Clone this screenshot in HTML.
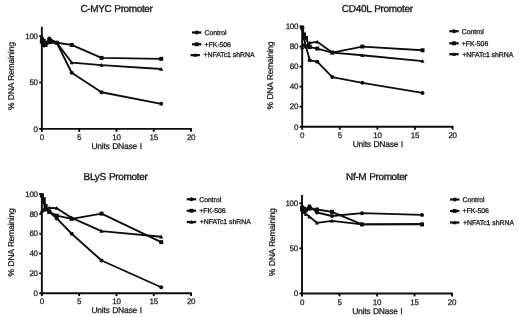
<!DOCTYPE html>
<html lang="en"><head><meta charset="utf-8"><title>DNase I sensitivity</title>
<style>
html,body{margin:0;padding:0;background:#fff;}
body{width:520px;height:317px;overflow:hidden;}
svg{display:block;font-family:"Liberation Sans",Arial,sans-serif;fill:#0d0d0d;}
text{fill:#1a1a1a;stroke:#1a1a1a;stroke-width:0.25px;text-rendering:geometricPrecision;}
.title{font-size:10px;stroke-width:0.35px;letter-spacing:-0.3px;word-spacing:0.6px;}
.tick{font-size:8px;letter-spacing:-0.3px;}
.lab{font-size:8.5px;letter-spacing:-0.24px;word-spacing:0.5px;}
.leg{font-size:6.9px;stroke-width:0.3px;letter-spacing:-0.03px;}
.ax{fill:none;stroke:#0d0d0d;stroke-width:1.9;}
.ln{fill:none;stroke:#0d0d0d;stroke-width:1.85;stroke-linejoin:round;}
.lg{fill:none;stroke:#0d0d0d;stroke-width:2.2;}
#all{filter:blur(0.35px);}
</style></head><body>
<svg width="520" height="317" viewBox="0 0 520 317">
<rect width="520" height="317" fill="#fff"/>
<g id="all">
<g><text class="title" style="letter-spacing:-0.38px" x="80.5" y="12.1">C-MYC Promoter</text>
<path class="ax" d="M41.85 26.7 V128.9 H191.90"/>
<path class="ax" d="M39.25 128.90 H41.85"/>
<text class="tick" x="37.75" y="131.60" text-anchor="end">0</text>
<path class="ax" d="M39.25 82.50 H41.85"/>
<text class="tick" x="37.75" y="85.20" text-anchor="end">50</text>
<path class="ax" d="M39.25 36.10 H41.85"/>
<text class="tick" x="37.75" y="38.80" text-anchor="end">100</text>
<path class="ax" d="M41.85 128.9 V131.8"/>
<text class="tick" x="41.85" y="139.9" text-anchor="middle">0</text>
<path class="ax" d="M79.15 128.9 V131.8"/>
<text class="tick" x="79.15" y="139.9" text-anchor="middle">5</text>
<path class="ax" d="M116.45 128.9 V131.8"/>
<text class="tick" x="116.45" y="139.9" text-anchor="middle">10</text>
<path class="ax" d="M153.75 128.9 V131.8"/>
<text class="tick" x="153.75" y="139.9" text-anchor="middle">15</text>
<path class="ax" d="M191.05 128.9 V131.8"/>
<text class="tick" x="191.05" y="139.9" text-anchor="middle">20</text>
<text class="lab" x="116.6" y="148.70000000000002" text-anchor="middle">Units DNase I</text>
<text class="lab" transform="translate(13.6 76.2) rotate(-90)" text-anchor="middle">% DNA Remaining</text>
<path class="ln" d="M41.85 38.88 L43.72 45.38 L45.58 43.52 L49.31 38.61 L56.77 42.78 L71.69 72.76 L101.53 92.24 L161.21 103.84"/>
<circle cx="41.85" cy="38.88" r="2.0"/>
<circle cx="43.72" cy="45.38" r="2.0"/>
<circle cx="45.58" cy="43.52" r="2.0"/>
<circle cx="49.31" cy="38.61" r="2.0"/>
<circle cx="56.77" cy="42.78" r="2.0"/>
<circle cx="71.69" cy="72.76" r="2.0"/>
<circle cx="101.53" cy="92.24" r="2.0"/>
<circle cx="161.21" cy="103.84" r="2.0"/>
<path class="ln" d="M41.85 41.67 L43.72 40.74 L45.58 44.45 L49.31 40.74 L56.77 42.78 L71.69 44.92 L101.53 57.91 L161.21 58.84"/>
<rect x="39.85" y="39.67" width="4.0" height="4.0"/>
<rect x="41.72" y="38.74" width="4.0" height="4.0"/>
<rect x="43.58" y="42.45" width="4.0" height="4.0"/>
<rect x="47.31" y="38.74" width="4.0" height="4.0"/>
<rect x="54.77" y="40.78" width="4.0" height="4.0"/>
<rect x="69.69" y="42.92" width="4.0" height="4.0"/>
<rect x="99.53" y="55.91" width="4.0" height="4.0"/>
<rect x="159.21" y="56.84" width="4.0" height="4.0"/>
<path class="ln" d="M41.85 36.56 L43.72 41.67 L45.58 45.38 L49.31 42.60 L56.77 42.78 L71.69 62.55 L101.53 65.15 L161.21 69.04"/>
<polygon points="41.85,34.46 43.95,38.24 39.75,38.24"/>
<polygon points="43.72,39.57 45.82,43.35 41.62,43.35"/>
<polygon points="45.58,43.28 47.68,47.06 43.48,47.06"/>
<polygon points="49.31,40.50 51.41,44.28 47.21,44.28"/>
<polygon points="56.77,40.68 58.87,44.46 54.67,44.46"/>
<polygon points="71.69,60.45 73.79,64.23 69.59,64.23"/>
<polygon points="101.53,63.05 103.63,66.83 99.43,66.83"/>
<polygon points="161.21,66.94 163.31,70.72 159.11,70.72"/>
<path class="lg" d="M192.0 32.5 H201.4"/>
<circle cx="196.70" cy="32.50" r="1.95"/>
<text class="leg" x="204.5" y="34.85">Control</text>
<path class="lg" d="M192.0 44.3 H201.4"/>
<rect x="194.75" y="42.35" width="3.9" height="3.9"/>
<text class="leg" x="204.5" y="46.65">+FK-506</text>
<path class="lg" d="M190.5 55.1 H199.9"/>
<polygon points="195.20,53.05 197.25,56.74 193.15,56.74"/>
<text class="leg" x="203.5" y="57.45">+NFATc1 shRNA</text></g>
<g><text class="title" style="letter-spacing:-0.3px" x="341.8" y="12.0">CD40L Promoter</text>
<path class="ax" d="M302.2 26.3 V126.8 H453.45"/>
<path class="ax" d="M299.59999999999997 126.80 H302.2"/>
<text class="tick" x="298.09999999999997" y="129.50" text-anchor="end">0</text>
<path class="ax" d="M299.59999999999997 106.74 H302.2"/>
<text class="tick" x="298.09999999999997" y="109.44" text-anchor="end">20</text>
<path class="ax" d="M299.59999999999997 86.68 H302.2"/>
<text class="tick" x="298.09999999999997" y="89.38" text-anchor="end">40</text>
<path class="ax" d="M299.59999999999997 66.62 H302.2"/>
<text class="tick" x="298.09999999999997" y="69.32" text-anchor="end">60</text>
<path class="ax" d="M299.59999999999997 46.56 H302.2"/>
<text class="tick" x="298.09999999999997" y="49.26" text-anchor="end">80</text>
<path class="ax" d="M299.59999999999997 26.50 H302.2"/>
<text class="tick" x="298.09999999999997" y="29.20" text-anchor="end">100</text>
<path class="ax" d="M302.20 126.8 V129.7"/>
<text class="tick" x="302.20" y="137.8" text-anchor="middle">0</text>
<path class="ax" d="M339.80 126.8 V129.7"/>
<text class="tick" x="339.80" y="137.8" text-anchor="middle">5</text>
<path class="ax" d="M377.40 126.8 V129.7"/>
<text class="tick" x="377.40" y="137.8" text-anchor="middle">10</text>
<path class="ax" d="M415.00 126.8 V129.7"/>
<text class="tick" x="415.00" y="137.8" text-anchor="middle">15</text>
<path class="ax" d="M452.60 126.8 V129.7"/>
<text class="tick" x="452.60" y="137.8" text-anchor="middle">20</text>
<text class="lab" x="377.8" y="146.6" text-anchor="middle">Units DNase I</text>
<text class="lab" transform="translate(273.4 75.6) rotate(-90)" text-anchor="middle">% DNA Remaining</text>
<path class="ln" d="M302.20 28.51 L304.08 38.54 L305.96 46.56 L309.72 60.30 L317.24 61.71 L332.28 77.05 L362.36 82.87 L422.52 92.90"/>
<circle cx="302.20" cy="28.51" r="2.0"/>
<circle cx="304.08" cy="38.54" r="2.0"/>
<circle cx="305.96" cy="46.56" r="2.0"/>
<circle cx="309.72" cy="60.30" r="2.0"/>
<circle cx="317.24" cy="61.71" r="2.0"/>
<circle cx="332.28" cy="77.05" r="2.0"/>
<circle cx="362.36" cy="82.87" r="2.0"/>
<circle cx="422.52" cy="92.90" r="2.0"/>
<path class="ln" d="M302.20 27.50 L304.08 34.52 L305.96 38.03 L309.72 47.06 L317.24 48.57 L332.28 52.58 L362.36 46.56 L422.52 50.27"/>
<rect x="300.20" y="25.50" width="4.0" height="4.0"/>
<rect x="302.08" y="32.52" width="4.0" height="4.0"/>
<rect x="303.96" y="36.03" width="4.0" height="4.0"/>
<rect x="307.72" y="45.06" width="4.0" height="4.0"/>
<rect x="315.24" y="46.57" width="4.0" height="4.0"/>
<rect x="330.28" y="50.58" width="4.0" height="4.0"/>
<rect x="360.36" y="44.56" width="4.0" height="4.0"/>
<rect x="420.52" y="48.27" width="4.0" height="4.0"/>
<path class="ln" d="M302.20 47.56 L304.08 44.55 L305.96 46.56 L309.72 42.85 L317.24 41.85 L332.28 52.58 L362.36 55.29 L422.52 61.10"/>
<polygon points="302.20,45.46 304.30,49.24 300.10,49.24"/>
<polygon points="304.08,42.45 306.18,46.23 301.98,46.23"/>
<polygon points="305.96,44.46 308.06,48.24 303.86,48.24"/>
<polygon points="309.72,40.75 311.82,44.53 307.62,44.53"/>
<polygon points="317.24,39.75 319.34,43.53 315.14,43.53"/>
<polygon points="332.28,50.48 334.38,54.26 330.18,54.26"/>
<polygon points="362.36,53.19 364.46,56.97 360.26,56.97"/>
<polygon points="422.52,59.00 424.62,62.78 420.42,62.78"/>
<path class="lg" d="M449.3 31.2 H458.7"/>
<circle cx="454.00" cy="31.20" r="1.95"/>
<text class="leg" x="461.8" y="33.55">Control</text>
<path class="lg" d="M449.3 43.3 H458.7"/>
<rect x="452.05" y="41.35" width="3.9" height="3.9"/>
<text class="leg" x="461.8" y="45.65">+FK-506</text>
<path class="lg" d="M449.3 54.2 H458.7"/>
<polygon points="454.00,52.15 456.05,55.84 451.95,55.84"/>
<text class="leg" x="462.3" y="56.550000000000004">+NFATc1 shRNA</text></g>
<g><text class="title" style="letter-spacing:-0.32px" x="83.6" y="179.7">BLyS Promoter</text>
<path class="ax" d="M41.85 193.9 V293.2 H191.90"/>
<path class="ax" d="M39.25 293.20 H41.85"/>
<text class="tick" x="37.75" y="295.90" text-anchor="end">0</text>
<path class="ax" d="M39.25 273.38 H41.85"/>
<text class="tick" x="37.75" y="276.08" text-anchor="end">20</text>
<path class="ax" d="M39.25 253.56 H41.85"/>
<text class="tick" x="37.75" y="256.26" text-anchor="end">40</text>
<path class="ax" d="M39.25 233.74 H41.85"/>
<text class="tick" x="37.75" y="236.44" text-anchor="end">60</text>
<path class="ax" d="M39.25 213.92 H41.85"/>
<text class="tick" x="37.75" y="216.62" text-anchor="end">80</text>
<path class="ax" d="M39.25 194.10 H41.85"/>
<text class="tick" x="37.75" y="196.80" text-anchor="end">100</text>
<path class="ax" d="M41.85 293.2 V296.09999999999997"/>
<text class="tick" x="41.85" y="304.2" text-anchor="middle">0</text>
<path class="ax" d="M79.15 293.2 V296.09999999999997"/>
<text class="tick" x="79.15" y="304.2" text-anchor="middle">5</text>
<path class="ax" d="M116.45 293.2 V296.09999999999997"/>
<text class="tick" x="116.45" y="304.2" text-anchor="middle">10</text>
<path class="ax" d="M153.75 293.2 V296.09999999999997"/>
<text class="tick" x="153.75" y="304.2" text-anchor="middle">15</text>
<path class="ax" d="M191.05 293.2 V296.09999999999997"/>
<text class="tick" x="191.05" y="304.2" text-anchor="middle">20</text>
<text class="lab" x="116.6" y="313.0" text-anchor="middle">Units DNase I</text>
<text class="lab" transform="translate(13.8 242.5) rotate(-90)" text-anchor="middle">% DNA Remaining</text>
<path class="ln" d="M41.85 196.08 L43.72 202.03 L45.58 208.96 L49.31 211.94 L56.77 218.38 L71.69 233.74 L101.53 260.50 L161.21 287.25"/>
<circle cx="41.85" cy="196.08" r="2.0"/>
<circle cx="43.72" cy="202.03" r="2.0"/>
<circle cx="45.58" cy="208.96" r="2.0"/>
<circle cx="49.31" cy="211.94" r="2.0"/>
<circle cx="56.77" cy="218.38" r="2.0"/>
<circle cx="71.69" cy="233.74" r="2.0"/>
<circle cx="101.53" cy="260.50" r="2.0"/>
<circle cx="161.21" cy="287.25" r="2.0"/>
<path class="ln" d="M41.85 195.09 L43.72 199.06 L45.58 205.99 L49.31 211.94 L56.77 215.70 L71.69 218.88 L101.53 213.62 L161.21 242.16"/>
<rect x="39.85" y="193.09" width="4.0" height="4.0"/>
<rect x="41.72" y="197.06" width="4.0" height="4.0"/>
<rect x="43.58" y="203.99" width="4.0" height="4.0"/>
<rect x="47.31" y="209.94" width="4.0" height="4.0"/>
<rect x="54.77" y="213.70" width="4.0" height="4.0"/>
<rect x="69.69" y="216.88" width="4.0" height="4.0"/>
<rect x="99.53" y="211.62" width="4.0" height="4.0"/>
<rect x="159.21" y="240.16" width="4.0" height="4.0"/>
<path class="ln" d="M41.85 210.95 L43.72 209.96 L45.58 209.46 L49.31 207.97 L56.77 208.17 L71.69 217.88 L101.53 231.06 L161.21 236.71"/>
<polygon points="41.85,208.85 43.95,212.63 39.75,212.63"/>
<polygon points="43.72,207.86 45.82,211.64 41.62,211.64"/>
<polygon points="45.58,207.36 47.68,211.14 43.48,211.14"/>
<polygon points="49.31,205.87 51.41,209.65 47.21,209.65"/>
<polygon points="56.77,206.07 58.87,209.85 54.67,209.85"/>
<polygon points="71.69,215.78 73.79,219.56 69.59,219.56"/>
<polygon points="101.53,228.96 103.63,232.74 99.43,232.74"/>
<polygon points="161.21,234.61 163.31,238.39 159.11,238.39"/>
<path class="lg" d="M186.75 199.25 H196.15"/>
<circle cx="191.45" cy="199.25" r="1.95"/>
<text class="leg" x="199.25" y="201.6">Control</text>
<path class="lg" d="M186.75 210.75 H196.15"/>
<rect x="189.50" y="208.80" width="3.9" height="3.9"/>
<text class="leg" x="199.25" y="213.1">+FK-506</text>
<path class="lg" d="M186.75 222.0 H196.15"/>
<polygon points="191.45,219.95 193.50,223.64 189.40,223.64"/>
<text class="leg" x="199.75" y="224.35">+NFATc1 shRNA</text></g>
<g><text class="title" style="letter-spacing:-0.38px" x="346.1" y="179.7">Nf-M Promoter</text>
<path class="ax" d="M302.0 194.9 V293.5 H452.85"/>
<path class="ax" d="M299.4 293.50 H302.0"/>
<text class="tick" x="297.9" y="296.20" text-anchor="end">0</text>
<path class="ax" d="M299.4 248.35 H302.0"/>
<text class="tick" x="297.9" y="251.05" text-anchor="end">50</text>
<path class="ax" d="M299.4 203.20 H302.0"/>
<text class="tick" x="297.9" y="205.90" text-anchor="end">100</text>
<path class="ax" d="M302.00 293.5 V296.4"/>
<text class="tick" x="302.00" y="304.5" text-anchor="middle">0</text>
<path class="ax" d="M339.50 293.5 V296.4"/>
<text class="tick" x="339.50" y="304.5" text-anchor="middle">5</text>
<path class="ax" d="M377.00 293.5 V296.4"/>
<text class="tick" x="377.00" y="304.5" text-anchor="middle">10</text>
<path class="ax" d="M414.50 293.5 V296.4"/>
<text class="tick" x="414.50" y="304.5" text-anchor="middle">15</text>
<path class="ax" d="M452.00 293.5 V296.4"/>
<text class="tick" x="452.00" y="304.5" text-anchor="middle">20</text>
<text class="lab" x="377.3" y="314.1" text-anchor="middle">Units DNase I</text>
<text class="lab" transform="translate(274.6 242.3) rotate(-90)" text-anchor="middle">% DNA Remaining</text>
<path class="ln" d="M302.00 206.81 L303.88 210.42 L305.75 209.52 L309.50 206.18 L317.00 212.50 L332.00 216.02 L362.00 213.13 L422.00 214.94"/>
<circle cx="302.00" cy="206.81" r="2.0"/>
<circle cx="303.88" cy="210.42" r="2.0"/>
<circle cx="305.75" cy="209.52" r="2.0"/>
<circle cx="309.50" cy="206.18" r="2.0"/>
<circle cx="317.00" cy="212.50" r="2.0"/>
<circle cx="332.00" cy="216.02" r="2.0"/>
<circle cx="362.00" cy="213.13" r="2.0"/>
<circle cx="422.00" cy="214.94" r="2.0"/>
<path class="ln" d="M302.00 209.52 L303.88 208.62 L305.75 210.42 L309.50 208.62 L317.00 209.52 L332.00 211.87 L362.00 224.42 L422.00 224.42"/>
<rect x="300.00" y="207.52" width="4.0" height="4.0"/>
<rect x="301.88" y="206.62" width="4.0" height="4.0"/>
<rect x="303.75" y="208.42" width="4.0" height="4.0"/>
<rect x="307.50" y="206.62" width="4.0" height="4.0"/>
<rect x="315.00" y="207.52" width="4.0" height="4.0"/>
<rect x="330.00" y="209.87" width="4.0" height="4.0"/>
<rect x="360.00" y="222.42" width="4.0" height="4.0"/>
<rect x="420.00" y="222.42" width="4.0" height="4.0"/>
<path class="ln" d="M302.00 207.71 L303.88 212.23 L305.75 214.04 L309.50 216.75 L317.00 222.80 L332.00 220.81 L362.00 224.42 L422.00 223.97"/>
<polygon points="302.00,205.61 304.10,209.39 299.90,209.39"/>
<polygon points="303.88,210.13 305.98,213.91 301.77,213.91"/>
<polygon points="305.75,211.94 307.85,215.72 303.65,215.72"/>
<polygon points="309.50,214.65 311.60,218.43 307.40,218.43"/>
<polygon points="317.00,220.70 319.10,224.48 314.90,224.48"/>
<polygon points="332.00,218.71 334.10,222.49 329.90,222.49"/>
<polygon points="362.00,222.32 364.10,226.10 359.90,226.10"/>
<polygon points="422.00,221.87 424.10,225.65 419.90,225.65"/>
<path class="lg" d="M450.0 199.5 H459.4"/>
<circle cx="454.70" cy="199.50" r="1.95"/>
<text class="leg" x="462.5" y="201.85">Control</text>
<path class="lg" d="M450.0 211.0 H459.4"/>
<rect x="452.75" y="209.05" width="3.9" height="3.9"/>
<text class="leg" x="462.5" y="213.35">+FK-506</text>
<path class="lg" d="M450.0 222.5 H459.4"/>
<polygon points="454.70,220.45 456.75,224.14 452.65,224.14"/>
<text class="leg" x="463.0" y="224.85">+NFATc1 shRNA</text></g>
</g>
</svg>
</body></html>
